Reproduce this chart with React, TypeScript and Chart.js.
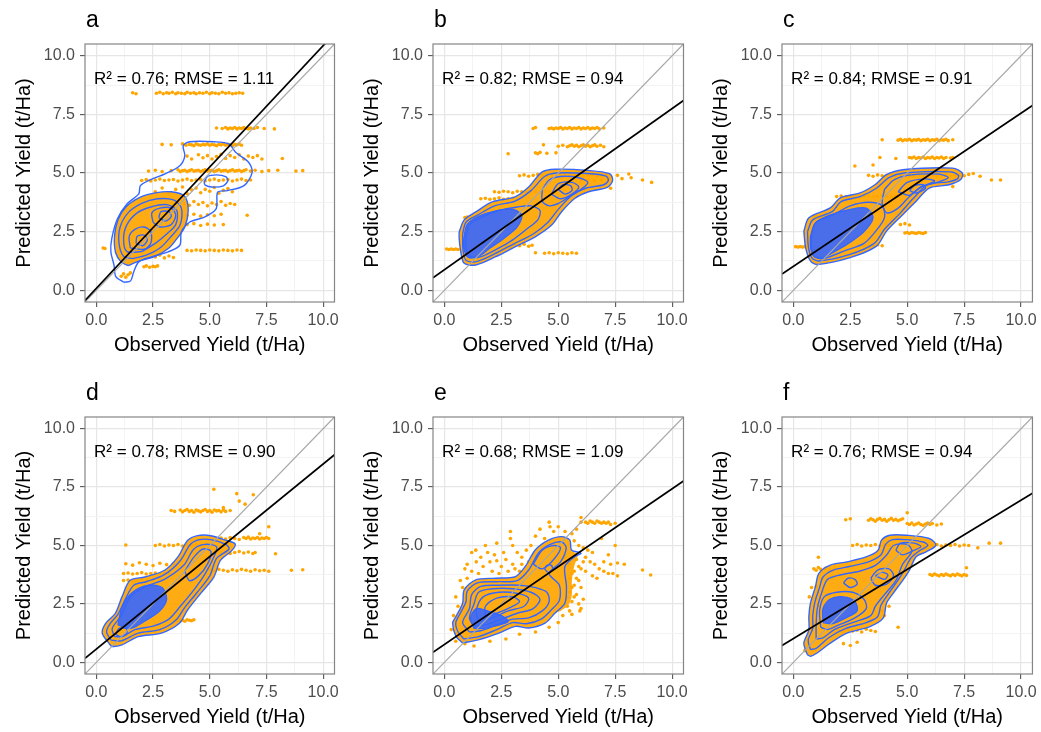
import React, { useEffect, useRef } from "react";
import { Chart, registerables } from "chart.js";
Chart.register(...registerables);

// ---------------- data ----------------
const axisTicks = [0, 1.25, 2.5, 3.75, 5, 6.25, 7.5, 8.75, 10];
const axisMin = -0.5;
const axisMax = 10.5;
const panelLetters = ["a", "b", "c", "d", "e", "f"];
const r2Values = ["0.76", "0.82", "0.84", "0.78", "0.68", "0.76"];
const rmseValues = ["1.11", "0.94", "0.91", "0.90", "1.09", "0.94"];
const fitIntercepts = [0.08, 0.88, 1.02, 0.57, 0.76, 1.02];
const fitSlopes = [1.035, 0.687, 0.653, 0.792, 0.667, 0.592];
const labelX = -0.1;
const labelY = 9;
const xTitle = "Observed Yield (t/Ha)";
const yTitle = "Predicted Yield (t/Ha)";

const aPoints = [
  1.6,8.42, 1.75,8.38, 2.65,8.4, 2.8,8.44, 2.95,8.38, 3.1,8.42, 3.2,8.4, 3.35,8.44, 3.5,8.38, 3.6,8.42, 3.75,8.4, 3.9,8.38, 4.0,8.44, 4.15,8.4, 4.3,8.42, 4.4,8.38, 4.55,8.42, 4.7,8.4, 4.85,8.44, 5.0,8.38, 5.1,8.42, 5.25,8.4, 5.4,8.38, 5.55,8.44, 5.7,8.4, 5.85,8.42, 6.0,8.38, 6.15,8.4, 6.3,8.42, 6.45,8.4,
  5.3,6.92, 5.55,6.9, 5.7,6.94, 5.8,6.88, 5.9,6.92, 6.0,6.9, 6.1,6.94, 6.2,6.88, 6.3,6.92, 6.4,6.9, 6.5,6.94, 6.6,6.9, 6.7,6.88, 6.8,6.92, 6.95,6.9, 7.1,6.94, 7.4,6.9, 7.85,6.88, 8.2,5.62,
  2.9,6.22, 3.3,6.2, 3.8,6.24, 3.95,6.18, 4.1,6.22, 4.2,6.2, 4.3,6.16, 4.4,6.24, 4.5,6.2, 4.6,6.18, 4.7,6.22, 4.8,6.2, 4.9,6.24, 5.0,6.18, 5.1,6.22, 5.2,6.2, 5.3,6.16, 5.4,6.22, 5.5,6.2, 5.6,6.24, 5.7,6.18, 5.8,6.22, 5.9,6.2, 6.0,6.16, 6.1,6.22, 6.2,6.2, 6.3,6.24, 6.4,6.18,
  4.0,5.72, 4.2,5.6, 4.5,5.78, 4.7,5.65, 4.9,5.74, 5.1,5.6, 5.3,5.7, 5.5,5.8, 5.7,5.62, 5.9,5.74, 6.1,5.66, 6.3,5.78, 6.5,5.6, 6.7,5.72, 6.9,5.66, 7.1,5.74, 7.3,5.6,
  2.3,5.08, 2.6,5.12, 2.9,5.06, 3.3,5.1, 3.6,5.14, 3.7,5.06, 3.8,5.1, 3.9,5.12, 4.0,5.06, 4.1,5.1, 4.2,5.14, 4.3,5.08, 4.4,5.1, 4.5,5.12, 4.6,5.06, 4.7,5.1, 4.8,5.14, 4.9,5.08, 5.0,5.1, 5.1,5.12, 5.2,5.06, 5.3,5.1, 5.4,5.14, 5.5,5.08, 5.6,5.1, 5.7,5.12, 5.8,5.06, 5.9,5.1, 6.0,5.14, 6.1,5.08, 6.2,5.1, 6.3,5.12, 6.4,5.06, 6.5,5.1, 6.6,5.14, 6.8,5.08, 7.0,5.12, 7.3,5.06, 7.6,5.1, 8.0,5.12, 8.8,5.08, 9.1,5.1,
  2.0,4.68, 2.2,4.72, 2.4,4.66, 2.6,4.7, 2.8,4.74, 3.0,4.68, 3.2,4.7, 3.4,4.72, 3.6,4.66, 3.8,4.7, 4.0,4.74, 4.2,4.68, 4.4,4.7, 4.6,4.72, 4.8,4.66, 5.0,4.7, 5.2,4.74, 5.4,4.68, 5.6,4.7, 5.8,4.72, 6.0,4.66, 6.2,4.7, 6.4,4.74, 6.6,4.68, 6.8,4.7,
  2.6,4.2, 2.9,4.36, 3.2,4.14, 3.5,4.3, 3.8,4.4, 4.0,4.12, 4.2,4.28, 4.4,4.36, 4.6,4.16, 4.8,4.3, 5.0,4.22, 5.2,4.38, 5.4,4.14, 5.6,4.26, 5.8,4.34, 6.0,4.2,
  3.9,3.7, 4.1,3.62, 4.3,3.78, 4.5,3.66, 4.7,3.74, 4.9,3.6, 5.1,3.72, 5.3,3.66, 5.5,3.78, 5.7,3.62, 5.9,3.7, 6.1,3.66,
  4.0,3.2, 4.3,3.24, 4.6,3.16, 4.9,3.22, 5.2,3.18, 5.5,3.24, 6.65,3.2,
  4.0,2.8, 4.3,2.84, 4.6,2.76, 4.9,2.82, 5.2,2.78, 5.6,2.8,
  0.3,1.8, 0.38,1.78, 4.0,1.7, 4.2,1.68, 4.4,1.72, 4.6,1.7, 4.8,1.68, 5.0,1.72, 5.2,1.7, 5.4,1.68, 5.6,1.72, 5.8,1.7, 6.0,1.68, 6.2,1.72, 6.4,1.7,
  2.1,1.0, 2.2,1.04, 2.35,0.98, 2.5,1.02, 2.6,1.0, 2.7,1.04,
  2.6,1.42, 2.8,1.5, 3.0,1.38, 3.2,1.46, 3.4,1.4,
  1.1,0.6, 1.2,0.7, 1.3,0.56, 1.4,0.66, 1.5,0.74,
];

const bPoints = [
  3.9,6.9, 4.0,6.94, 4.6,6.9, 4.7,6.92, 4.8,6.88, 4.9,6.92, 5.0,6.9, 5.1,6.94, 5.2,6.88, 5.3,6.92, 5.4,6.9, 5.5,6.94, 5.6,6.88, 5.7,6.92, 5.8,6.9, 5.9,6.94, 6.0,6.88, 6.1,6.92, 6.2,6.9, 6.3,6.94, 6.4,6.88, 6.5,6.92, 6.6,6.9, 6.7,6.94, 6.8,6.88, 7.0,6.92,
  4.35,6.2, 5.0,6.14, 5.2,6.18, 5.4,6.12, 5.5,6.16, 5.6,6.2, 5.7,6.14, 5.8,6.18, 5.9,6.12, 6.0,6.16, 6.1,6.2, 6.2,6.14, 6.3,6.18, 6.4,6.12, 6.5,6.16, 6.6,6.2, 6.7,6.14, 6.85,6.18, 7.0,6.12,
  2.8,5.82, 4.0,5.86, 4.1,5.82, 4.2,5.88, 4.5,5.84, 4.9,5.86,
  3.3,4.88, 3.5,4.92, 3.7,4.86, 3.9,4.9, 4.1,4.94, 4.3,4.88, 4.5,4.9, 4.7,4.92, 4.9,4.86, 5.1,4.9, 5.3,4.94, 5.5,4.88, 5.7,4.9, 5.9,4.92, 6.1,4.86, 6.3,4.9, 6.5,4.94, 6.7,4.88, 6.9,4.9, 7.1,4.92, 7.3,4.86,
  6.0,4.7, 6.3,4.72, 6.6,4.68, 6.9,4.7, 7.2,4.74, 7.6,4.9, 7.8,4.76, 8.1,4.96, 8.2,4.8, 8.7,4.7, 9.1,4.6, 7.3,4.35,
  2.2,4.2, 2.4,4.18, 2.6,4.22, 2.8,4.2, 3.0,4.16, 3.2,4.22, 3.4,4.2, 3.6,4.18, 3.8,4.22, 4.0,4.2, 4.2,4.16, 4.4,4.22, 4.6,4.2, 4.8,4.18,
  1.6,3.9, 1.8,3.92, 2.0,3.88, 2.2,3.9, 2.4,3.94, 2.6,3.88, 2.8,3.9, 3.0,3.92, 3.2,3.88,
  0.9,3.1, 1.0,3.12, 1.1,3.08, 1.2,3.1, 1.3,3.14, 1.5,3.08, 1.7,3.12,
  0.1,1.76, 0.2,1.74, 0.3,1.76, 0.4,1.74, 0.5,1.76, 0.6,1.74,
  4.0,1.6, 4.4,1.58, 4.6,1.6, 4.8,1.56, 5.0,1.6, 5.2,1.58, 5.4,1.56, 5.6,1.6, 5.8,1.58,
  2.7,1.92, 2.9,1.88, 3.1,1.94, 3.3,1.9, 3.5,1.96, 3.7,1.88, 3.85,1.92,
];

const cPoints = [
  3.9,6.42, 4.6,6.4, 4.7,6.44, 4.8,6.38, 4.9,6.42, 5.0,6.4, 5.1,6.44, 5.2,6.38, 5.3,6.42, 5.4,6.4, 5.5,6.44, 5.6,6.38, 5.7,6.42, 5.8,6.4, 5.9,6.44, 6.0,6.38, 6.1,6.42, 6.2,6.4, 6.3,6.44, 6.4,6.38, 6.5,6.42, 6.6,6.4, 6.7,6.44, 6.8,6.38, 7.0,6.42,
  3.8,5.66, 4.5,5.62, 5.1,5.66, 5.2,5.64, 5.3,5.68, 5.4,5.62, 5.5,5.66, 5.6,5.64, 5.7,5.68, 5.8,5.62, 5.9,5.66, 6.0,5.64, 6.1,5.68, 6.2,5.62, 6.3,5.66, 6.4,5.64, 6.5,5.68, 6.6,5.62, 6.7,5.66, 6.9,5.64, 7.0,5.66,
  2.7,5.3, 3.5,5.34,
  3.3,4.9, 3.5,4.86, 3.7,4.92, 3.9,4.88, 4.1,4.9, 4.3,4.94, 4.5,4.86, 4.7,4.9, 4.9,4.92, 5.1,4.88, 5.3,4.9, 5.5,4.94, 5.7,4.86, 5.9,4.9, 6.1,4.92, 6.3,4.88, 6.5,4.9, 6.7,4.94, 6.9,4.86, 7.1,4.9, 7.3,4.92, 7.5,4.88, 7.7,4.94, 7.9,4.98, 8.2,4.86, 8.7,4.7, 9.1,4.7, 7.0,4.42,
  1.9,4.0, 2.1,4.02, 2.3,3.98, 2.5,4.0, 2.7,4.04, 2.9,3.98, 3.1,4.0, 3.3,4.02, 3.5,3.98, 3.7,4.0, 3.9,4.04, 4.1,3.98, 4.3,4.0, 4.5,4.02,
  0.9,3.14, 1.0,3.16, 1.1,3.12, 1.2,3.16, 1.3,3.14, 1.4,3.18, 1.5,3.12, 1.6,3.16, 1.8,3.14, 2.0,3.16,
  4.7,2.8, 4.9,2.84, 5.1,2.78,
  4.9,2.44, 5.0,2.46, 5.1,2.42, 5.2,2.46, 5.3,2.44, 5.4,2.42, 5.5,2.46, 5.6,2.44, 5.7,2.42, 5.8,2.46,
  0.1,1.86, 0.2,1.84, 0.3,1.86, 0.4,1.84, 0.5,1.86,
  2.9,1.9, 3.1,1.92, 3.3,1.88, 3.5,1.9, 3.7,1.94, 3.9,1.9,
];

const dPoints = [
  3.3,6.5, 3.45,6.46, 3.7,6.52, 3.8,6.44, 3.9,6.5, 4.0,6.54, 4.1,6.46, 4.2,6.5, 4.3,6.42, 4.4,6.52, 4.5,6.48, 4.6,6.44, 4.7,6.5, 4.8,6.54, 4.9,6.46, 5.0,6.5, 5.1,6.42, 5.2,6.52, 5.3,6.48, 5.4,6.5, 5.5,6.44, 5.6,6.52, 5.7,6.46, 5.9,6.5,
  5.18,7.41, 6.19,7.22, 6.92,7.17, 6.56,6.77, 5.6,6.62, 6.3,6.9,
  5.5,5.32, 5.7,5.28, 5.9,5.34, 6.1,5.3, 6.3,5.26, 6.5,5.34, 6.6,5.3, 6.7,5.36, 6.8,5.28, 6.9,5.32, 7.0,5.3, 7.1,5.34, 7.2,5.28, 7.3,5.32, 7.4,5.3, 7.5,5.34, 7.6,5.3, 7.6,5.8, 7.2,5.5,
  1.3,5.02, 2.6,5.0, 2.8,5.04, 3.0,4.98, 3.2,5.02, 3.4,5.0, 3.6,5.04, 3.8,4.98, 4.0,5.02, 4.2,5.0, 4.4,5.04, 4.6,4.98, 4.8,5.02,
  5.5,4.7, 5.7,4.72, 5.9,4.66, 6.1,4.7, 6.3,4.74, 6.5,4.68, 6.7,4.72, 6.9,4.66, 7.0,4.7, 7.9,4.65,
  1.3,4.22, 1.6,4.16, 1.9,4.26, 2.2,4.2, 2.5,4.14, 2.8,4.24, 3.1,4.18, 3.4,4.22,
  5.0,3.96, 5.2,3.92, 5.4,3.98, 5.6,3.94, 5.8,3.9, 6.0,3.96, 6.2,3.92, 6.4,3.98, 6.6,3.94, 6.8,3.9, 7.0,3.96, 7.2,3.92, 7.4,3.94, 7.6,3.9, 8.6,3.94, 9.1,3.96,
  1.2,3.8, 1.4,3.82, 1.6,3.78, 1.8,3.8, 2.0,3.84, 2.2,3.78, 2.4,3.8, 2.6,3.82, 2.8,3.78, 3.0,3.8, 3.2,3.82,
  1.2,3.5, 1.4,3.52, 1.6,3.48, 1.8,3.5, 2.0,3.54, 2.2,3.48, 2.5,3.5, 2.8,3.52,
  3.5,1.8, 3.6,1.78, 3.7,1.84, 3.8,1.8, 3.9,1.76, 4.0,1.82, 4.1,1.8, 4.2,1.78, 4.3,1.82,
];

const ePoints = [
  2.9,5.6, 1.38,4.8, 1.2,4.7, 1.6,4.5, 2.0,4.3, 2.2,4.6, 2.5,4.1, 2.7,4.4, 3.0,4.2, 3.2,4.7, 3.4,4.5, 3.6,4.8, 3.0,5.0, 3.8,5.0, 4.0,5.4, 4.2,5.7, 4.4,5.3, 4.64,5.8, 4.8,5.6, 4.6,6.0, 5.0,5.8, 5.3,5.6, 5.6,5.5, 5.8,5.7,
  6.0,6.2, 6.0,6.0, 6.2,6.0, 6.3,5.95, 6.4,6.05, 6.5,6.0, 6.6,5.95, 6.7,6.05, 6.8,6.0, 6.9,5.95, 7.0,6.0, 7.1,5.95, 7.2,6.0, 7.3,5.9, 7.5,5.95,
  5.7,5.2, 5.9,5.0, 6.1,4.9, 6.3,4.8, 6.5,4.7, 6.2,4.5, 6.4,4.3, 6.6,4.2, 6.8,4.0, 7.0,3.9, 7.2,3.8, 7.4,3.8, 7.6,3.7, 7.0,4.3, 7.3,4.2, 7.6,4.25, 7.9,4.2, 7.2,4.6, 6.5,3.7, 6.7,3.6, 6.0,4.0, 5.8,3.6, 5.6,3.2, 5.7,2.8, 5.9,2.5, 6.0,2.3, 5.5,2.2, 5.2,2.0,
  8.7,3.95, 9.06,3.74, 7.5,5.0, 6.9,5.3,
  0.4,2.0, 0.6,2.4, 0.5,2.8, 0.8,3.2, 1.0,3.6, 1.2,3.9, 0.9,4.0, 0.3,1.4, 0.5,0.9, 0.9,0.8, 1.3,0.7, 2.0,0.9, 2.7,1.0, 3.3,1.2, 4.0,1.3, 4.6,1.5, 5.0,1.7, 2.9,5.3, 2.3,5.1, 1.8,5.0,
  5.4,2.4, 5.6,2.6, 5.8,2.9, 5.5,3.0, 5.7,3.3, 5.9,3.5, 5.5,3.6, 5.7,3.9, 5.9,4.1, 6.1,4.3, 5.5,4.2, 5.8,4.4, 6.0,3.2, 6.1,2.7, 5.4,2.8, 5.6,3.8, 5.3,4.5, 6.2,3.9, 5.95,2.2, 5.6,2.05,
  1.0,4.2, 1.4,4.3, 1.7,4.1, 2.1,3.9, 2.4,3.8, 2.8,3.9, 3.1,4.0, 3.4,4.2, 2.6,4.7, 1.9,4.7, 2.3,4.35, 3.3,3.9, 3.7,4.3, 1.5,3.8, 0.7,3.5,
];

const fPoints = [
  2.3,6.1, 2.5,6.14, 3.3,6.08, 3.4,6.14, 3.5,6.1, 3.6,6.04, 3.7,6.12, 3.8,6.16, 3.9,6.08, 4.0,6.12, 4.1,6.04, 4.2,6.1, 4.3,6.16, 4.4,6.08, 4.5,6.12, 4.6,6.06, 4.7,6.1, 4.8,6.14, 5.0,6.4,
  5.0,5.94, 5.1,5.9, 5.2,5.96, 5.3,5.88, 5.4,5.92, 5.5,5.96, 5.6,5.9, 5.7,5.86, 5.8,5.92, 5.9,5.96, 6.0,5.9, 6.1,5.94, 6.3,5.88, 6.5,5.92,
  2.6,5.0, 2.8,5.04, 3.0,4.98, 3.2,5.02, 3.4,5.0, 3.6,5.04, 3.8,4.98, 4.0,5.02, 4.2,5.0, 5.5,5.04, 5.7,4.98, 5.9,5.02, 6.1,5.0, 6.3,5.04, 6.5,4.98, 6.7,5.02, 6.9,5.0, 7.1,5.04, 7.3,4.98, 7.5,5.02, 7.7,5.0, 8.1,4.9, 8.6,5.1, 9.1,5.1,
  6.0,3.76, 6.1,3.72, 6.2,3.78, 6.3,3.74, 6.4,3.7, 6.5,3.76, 6.6,3.72, 6.7,3.78, 6.8,3.74, 6.9,3.7, 7.0,3.76, 7.1,3.72, 7.2,3.78, 7.3,3.74, 7.4,3.7, 7.5,3.76, 7.6,3.72, 7.6,4.05,
  0.9,4.0, 1.0,3.94, 1.1,4.06, 1.2,3.98, 1.4,4.02, 1.6,3.96, 1.8,4.04, 1.1,4.5,
  0.8,3.2, 1.0,3.24, 0.7,2.8,
  2.0,1.36, 2.2,1.32, 2.4,1.4, 2.6,1.34, 2.8,1.38, 3.0,1.3, 3.2,1.42, 3.4,1.36, 3.6,1.32,
  2.2,0.8, 2.5,0.72, 2.8,0.86,
  4.6,1.5, 4.0,2.0, 3.9,2.2, 4.2,2.4, 0.5,0.5, 0.6,0.7,
];

// density contour rings (first = outermost)
const aRings = [
  [1.22,0.34, 0.86,0.58, 0.78,1.07, 0.64,1.64, 0.68,2.2, 0.93,3.05, 1.36,3.69, 1.87,4.11, 1.94,4.46, 2.3,4.68, 3.03,4.96, 3.68,5.31, 3.9,5.73, 3.83,6.16, 4.12,6.33, 5.2,6.33, 5.86,6.23, 6.14,5.88, 6.72,5.45, 6.87,5.03, 6.51,4.46, 5.78,4.25, 5.35,4.18, 5.28,3.47, 4.77,3.12, 4.12,2.91, 3.75,2.49, 3.68,1.92, 3.17,1.64, 2.45,1.43, 1.87,1.21, 1.65,0.79, 1.51,0.4],
  [1.4,1.05, 1.1,1.2, 0.85,1.6, 0.8,2.3, 0.95,3.0, 1.3,3.55, 1.9,3.95, 2.6,4.15, 3.3,4.2, 3.9,4.0, 4.05,3.4, 3.9,2.7, 3.55,2.2, 3.2,1.8, 2.6,1.45, 1.9,1.25],
  [1.6,1.35, 1.2,1.45, 1.0,2.0, 1.05,2.7, 1.4,3.3, 2.0,3.7, 2.7,3.9, 3.4,3.85, 3.75,3.5, 3.7,2.8, 3.3,2.3, 2.8,1.8, 2.2,1.5],
  [2.0,1.65, 1.35,1.65, 1.2,2.2, 1.35,2.8, 1.8,3.3, 2.4,3.55, 3.1,3.65, 3.55,3.4, 3.5,2.8, 3.1,2.4, 2.6,2.0],
  [1.5,1.8, 1.45,2.3, 1.7,2.6, 2.1,2.7, 2.4,2.5, 2.4,2.0, 2.1,1.75],
  [2.5,2.9, 2.45,3.3, 2.8,3.5, 3.3,3.5, 3.5,3.2, 3.3,2.8, 2.8,2.7],
  [1.75,2.0, 1.8,2.3, 2.1,2.35, 2.25,2.15, 2.05,1.9],
  [2.75,3.1, 2.85,3.35, 3.2,3.35, 3.3,3.15, 3.05,2.95],
  [4.75,4.6, 4.9,4.85, 5.3,4.92, 5.7,4.85, 5.8,4.68, 5.6,4.45, 5.1,4.4, 4.8,4.48],
];

const bRings = [
  [0.65,2.49, 0.87,3.0, 1.38,3.34, 2.1,3.77, 3.1,3.98, 3.7,4.4, 4.28,5.04, 4.86,5.16, 6.3,5.11, 7.25,4.97, 7.39,4.69, 7.17,4.4, 6.3,4.19, 5.72,3.91, 5.14,3.34, 4.71,2.78, 3.99,2.28, 3.12,1.86, 2.25,1.43, 1.38,1.08, 0.87,1.15, 0.72,1.64, 0.65,2.21],
  [0.8,2.4, 0.95,2.9, 1.45,3.2, 2.2,3.6, 3.1,3.8, 3.8,4.25, 4.4,4.85, 4.9,5.0, 6.3,4.98, 7.1,4.87, 7.2,4.68, 7.0,4.5, 6.2,4.35, 5.6,4.05, 5.0,3.45, 4.55,2.9, 3.9,2.4, 3.05,1.98, 2.2,1.55, 1.4,1.22, 0.95,1.28, 0.82,1.7],
  [4.3,4.3, 4.6,4.7, 5.1,4.85, 5.9,4.8, 6.3,4.6, 6.0,4.3, 5.5,4.0, 5.0,3.7, 4.6,3.6, 4.3,3.8],
  [0.95,2.3, 1.1,2.8, 1.6,3.1, 2.4,3.4, 3.2,3.55, 3.8,3.6, 4.2,3.4, 4.1,3.0, 3.6,2.6, 3.0,2.15, 2.3,1.75, 1.5,1.4, 1.05,1.5, 0.93,1.9],
  [4.7,4.1, 5.0,4.55, 5.6,4.6, 5.9,4.4, 5.6,4.1, 5.1,3.9],
  [5.0,4.3, 5.2,4.5, 5.55,4.45, 5.6,4.25, 5.3,4.1],
];

const cRings = [
  [0.46,2.52, 0.68,3.09, 1.62,3.51, 2.06,3.94, 2.93,4.15, 3.58,4.5, 4.09,4.93, 4.81,5.14, 6.99,5.21, 7.42,5.0, 7.35,4.72, 6.84,4.5, 5.97,4.36, 5.39,3.8, 4.81,3.23, 4.09,2.52, 3.65,1.88, 2.49,1.39, 1.04,1.1, 0.75,1.25, 0.54,1.81],
  [0.62,2.5, 0.85,3.0, 1.7,3.35, 2.1,3.78, 2.95,4.0, 3.65,4.35, 4.2,4.8, 4.85,5.0, 6.9,5.05, 7.25,4.9, 7.2,4.75, 6.8,4.62, 5.9,4.5, 5.25,3.9, 4.7,3.3, 4.0,2.6, 3.55,2.0, 2.45,1.52, 1.1,1.25, 0.8,1.4, 0.66,1.85],
  [4.0,4.3, 4.4,4.7, 5.0,4.9, 6.4,4.95, 6.8,4.8, 6.3,4.6, 5.6,4.4, 5.1,4.0, 4.6,3.5, 4.1,3.3, 3.9,3.7],
  [4.6,4.2, 5.0,4.6, 5.8,4.75, 6.2,4.65, 5.6,4.4, 5.1,4.05],
  [5.1,4.25, 5.3,4.45, 5.7,4.5, 5.8,4.35, 5.4,4.15],
  [0.8,2.4, 1.0,2.9, 1.7,3.2, 2.5,3.6, 3.3,3.75, 3.9,3.6, 4.0,3.1, 3.6,2.5, 3.1,2.0, 2.3,1.7, 1.3,1.35, 0.9,1.45, 0.78,1.9],
];

const dRings = [
  [0.55,0.82, 0.26,1.25, 0.41,1.67, 0.84,2.1, 1.13,2.8, 1.49,3.51, 2.14,3.65, 3.01,3.94, 3.59,4.5, 4.02,5.21, 4.46,5.42, 5.04,5.42, 5.76,5.21, 6.12,5.07, 5.98,4.79, 5.47,4.36, 5.18,3.65, 4.6,2.95, 4.02,2.24, 3.66,1.67, 2.87,1.25, 1.85,1.1, 1.13,0.75, 0.69,0.68],
  [0.65,0.95, 0.45,1.3, 0.6,1.65, 0.95,2.05, 1.3,2.75, 1.65,3.3, 2.2,3.45, 3.0,3.75, 3.7,4.35, 4.15,5.05, 4.55,5.25, 5.05,5.25, 5.7,5.05, 5.85,4.85, 5.3,4.45, 5.0,3.7, 4.45,3.0, 3.9,2.35, 3.5,1.8, 2.8,1.4, 1.85,1.25, 1.1,0.92],
  [0.8,1.1, 0.7,1.45, 1.1,2.0, 1.5,2.8, 2.2,3.25, 3.0,3.55, 3.85,4.15, 4.3,4.85, 4.8,5.05, 5.3,4.95, 5.2,4.55, 4.8,3.8, 4.3,3.1, 3.75,2.45, 3.2,1.85, 2.5,1.55, 1.7,1.4, 1.15,1.1],
  [3.9,3.9, 4.3,4.5, 4.7,4.85, 5.05,4.75, 4.9,4.2, 4.5,3.7, 4.1,3.5],
  [0.85,1.2, 1.0,1.45, 1.3,1.45, 1.35,1.25, 1.05,1.1],
];

const eRings = [
  [0.8,0.83, 0.51,1.11, 0.36,1.68, 0.51,1.96, 0.8,2.53, 0.87,3.1, 1.38,3.53, 2.25,3.6, 3.12,3.67, 3.55,4.1, 3.99,4.81, 4.57,5.23, 5.14,5.38, 5.51,5.23, 5.58,4.81, 6.0,4.67, 5.72,4.52, 5.29,4.1, 5.36,3.24, 5.29,2.53, 4.86,2.11, 4.42,1.68, 3.7,1.47, 3.12,1.54, 2.39,1.25, 1.52,0.97],
  [0.85,1.0, 0.6,1.3, 0.5,1.7, 0.7,2.1, 0.95,2.6, 1.0,3.05, 1.45,3.4, 2.3,3.45, 3.2,3.5, 3.7,3.95, 4.15,4.7, 4.65,5.05, 5.15,5.15, 5.35,4.9, 5.1,4.3, 4.6,3.8, 5.05,3.3, 5.05,2.65, 4.7,2.25, 4.25,1.85, 3.6,1.65, 3.0,1.7, 2.3,1.4, 1.5,1.1],
  [1.1,1.3, 0.8,1.7, 1.1,2.3, 1.2,2.9, 1.6,3.25, 2.4,3.3, 3.3,3.3, 4.0,3.2, 4.5,3.0, 4.6,2.6, 4.3,2.2, 3.7,1.9, 3.0,1.85, 2.3,1.6, 1.6,1.35],
  [1.3,1.55, 1.1,1.9, 1.3,2.5, 1.5,3.0, 2.1,3.15, 3.0,3.15, 3.8,3.0, 4.2,2.7, 3.9,2.3, 3.2,2.1, 2.5,1.85, 1.8,1.6],
  [1.5,1.75, 1.4,2.2, 1.7,2.8, 2.4,3.0, 3.2,2.95, 3.7,2.75, 3.5,2.4, 2.8,2.2, 2.1,1.9],
  [1.8,1.95, 1.8,2.4, 2.3,2.75, 3.0,2.8, 3.3,2.6, 2.9,2.35, 2.3,2.1],
  [4.4,4.0, 4.5,4.15, 4.7,4.15, 4.75,3.95, 4.55,3.85],
  [3.9,4.2, 4.3,4.8, 4.8,5.0, 5.1,4.9, 4.8,4.4, 4.3,4.0],
];

const fRings = [
  [0.61,0.33, 0.46,0.82, 0.68,1.39, 0.68,1.96, 0.75,2.53, 0.97,3.24, 1.12,3.81, 1.62,4.16, 2.35,4.3, 3.22,4.52, 3.72,4.8, 3.87,5.23, 4.23,5.44, 4.96,5.44, 5.97,5.3, 6.26,5.01, 5.83,4.73, 5.39,4.52, 5.1,3.95, 4.81,3.52, 4.38,2.95, 4.09,2.53, 3.94,1.89, 3.36,1.53, 2.35,1.25, 1.62,0.82, 1.04,0.4, 0.75,0.26],
  [0.75,0.55, 0.65,0.95, 0.85,1.45, 0.85,2.0, 0.95,2.6, 1.15,3.2, 1.3,3.65, 1.75,3.95, 2.45,4.1, 3.3,4.3, 3.85,4.6, 4.05,5.05, 4.35,5.25, 4.95,5.25, 5.7,5.15, 5.9,5.0, 5.5,4.75, 5.15,4.45, 4.85,3.9, 4.55,3.45, 4.15,2.9, 3.85,2.45, 3.7,1.95, 3.2,1.7, 2.3,1.45, 1.55,1.05, 1.0,0.6],
  [1.0,1.0, 1.0,1.6, 1.05,2.3, 1.25,3.0, 1.5,3.55, 2.1,3.75, 2.9,3.9, 3.6,4.15, 4.1,4.6, 4.4,5.0, 5.0,5.05, 5.2,4.75, 4.8,4.2, 4.5,3.5, 4.0,2.9, 3.6,2.4, 3.4,2.0, 2.6,1.7, 1.8,1.4, 1.3,1.05],
  [2.2,3.4, 2.4,3.6, 2.7,3.55, 2.8,3.35, 2.5,3.2],
  [3.4,3.6, 3.7,3.95, 4.2,4.0, 4.4,3.7, 4.1,3.35, 3.6,3.3],
  [3.6,3.7, 3.9,3.85, 4.15,3.75, 4.0,3.55],
  [1.2,1.5, 1.15,2.2, 1.35,2.8, 1.9,3.0, 2.6,3.0, 3.1,2.7, 3.2,2.3, 2.7,1.9, 2.0,1.6, 1.5,1.4],
  [4.5,4.8, 4.7,5.1, 5.3,5.1, 5.6,4.95, 5.2,4.75, 4.8,4.6],
];

// highest-density cores (tightly packed contour lines)
const bCore = [0.85,2.2, 1.0,2.8, 1.5,3.15, 2.3,3.4, 3.0,3.45, 3.4,3.2, 3.2,2.7, 2.6,2.2, 2.0,1.8, 1.5,1.45, 1.05,1.4, 0.85,1.8];
const cCore = [0.75,2.3, 0.95,2.85, 1.6,3.2, 2.5,3.45, 3.2,3.5, 3.5,3.1, 3.1,2.5, 2.5,2.05, 1.9,1.7, 1.3,1.4, 0.9,1.45, 0.75,1.85];
const dCore = [0.95,1.6, 1.15,2.4, 1.6,3.0, 2.3,3.3, 2.9,3.2, 3.1,2.7, 2.8,2.2, 2.2,1.8, 1.5,1.45];
const eCore = [1.3,1.45, 1.15,1.9, 1.4,2.3, 1.9,2.2, 2.5,2.0, 2.8,1.75, 2.2,1.55, 1.7,1.45];
const fCore = [1.3,1.7, 1.3,2.3, 1.6,2.7, 2.2,2.8, 2.7,2.6, 2.8,2.2, 2.3,1.9, 1.7,1.65];
const eDense = [0.8,0.83, 0.51,1.11, 0.36,1.68, 0.51,1.96, 0.8,2.53, 0.87,3.1, 1.38,3.53, 2.25,3.6, 3.12,3.67, 3.55,4.1, 3.99,4.81, 4.57,5.23, 5.14,5.38, 5.51,5.23, 5.58,4.81, 5.85,4.6, 5.7,4.1, 5.6,3.5, 5.6,2.9, 5.45,2.45, 5.1,2.2, 4.86,2.11, 4.42,1.68, 3.7,1.47, 3.12,1.54, 2.39,1.25, 1.52,0.97];

const panelPoints = [aPoints, bPoints, cPoints, dPoints, ePoints, fPoints];
const panelRings = [aRings, bRings, cRings, dRings, eRings, fRings];
const panelDense = [aRings[1], bRings[0], cRings[0], dRings[0], eDense, fRings[0]];
const panelCores: number[][] = [[], bCore, cCore, dCore, eCore, fCore];

// ---------------- layout / style ----------------
const FONT = "'Liberation Sans', Arial, Helvetica, sans-serif";
const colLeft = [0, 349, 698];
const rowTop = [0, 366];
const canvasW = 343;
const canvasH = 366;
const yAxisW = [85, 84, 84];
const padRight = [6, 7, 8];
const padTop = [44, 51];
const xAxisH = [64, 58];
const xTitlePad = [9, 3];
const ORANGE = "#FFA500";
const BLUE = "#3366FF";

function toXY(flat: number[]) {
  const out: { x: number; y: number }[] = [];
  for (let i = 0; i + 1 < flat.length; i += 2) out.push({ x: flat[i], y: flat[i + 1] });
  return out;
}
function closed(flat: number[]) {
  const pts = toXY(flat);
  if (pts.length) pts.push({ ...pts[0] });
  return pts;
}
const isMajor = (v: number) => Math.abs(v / 2.5 - Math.round(v / 2.5)) < 1e-6;

const decorPlugin = {
  id: "panelDecor",
  afterDraw(chart: any, _args: any, opts: any) {
    const { ctx, chartArea } = chart;
    const { left, top, right, bottom } = chartArea;
    const xs = chart.scales.x;
    const ys = chart.scales.y;
    ctx.save();
    ctx.strokeStyle = "#858585";
    ctx.lineWidth = 1.2;
    ctx.strokeRect(left, top, right - left, bottom - top);
    ctx.fillStyle = "#000";
    ctx.textAlign = "left";
    ctx.textBaseline = "alphabetic";
    ctx.font = `23px ${FONT}`;
    ctx.fillText(opts.letter, left + 1, top - 17);
    ctx.textBaseline = "middle";
    ctx.font = `17px ${FONT}`;
    ctx.fillText(opts.label, xs.getPixelForValue(labelX), ys.getPixelForValue(labelY));
    ctx.restore();
  },
};

function axisOptions(axis: "x" | "y", col: number, row: number) {
  return {
    type: "linear",
    min: axisMin,
    max: axisMax,
    afterBuildTicks: (s: any) => {
      s.ticks = axisTicks.map((v) => ({ value: v }));
    },
    afterFit: (s: any) => {
      if (axis === "y") s.width = yAxisW[col];
      else s.height = xAxisH[row];
    },
    border: { display: false },
    grid: {
      color: (c: any) => (c.tick && isMajor(c.tick.value) ? "#E6E6E6" : "#F2F2F2"),
      lineWidth: (c: any) => (c.tick && isMajor(c.tick.value) ? 1.2 : 0.9),
      tickColor: (c: any) => (c.tick && isMajor(c.tick.value) ? "#555555" : "rgba(0,0,0,0)"),
      tickWidth: 1.1,
      tickLength: 5,
      drawTicks: true,
    },
    ticks: {
      autoSkip: false,
      maxRotation: 0,
      minRotation: 0,
      padding: axis === "y" ? 5 : 4,
      color: "#4D4D4D",
      font: { family: FONT, size: 16 },
      callback: (v: any) => (isMajor(Number(v)) ? Number(v).toFixed(1) : ""),
    },
    title: {
      display: true,
      text: axis === "x" ? xTitle : yTitle,
      color: "#000",
      font: { family: FONT, size: 20 },
      padding: axis === "x" ? { top: 0, bottom: xTitlePad[row] } : { top: yAxisW[col] - 73, bottom: 0 },
    },
  };
}

function buildConfig(idx: number): any {
  const col = idx % 3;
  const row = Math.floor(idx / 3);
  const datasets: any[] = [];
  datasets.push({
    data: closed(panelDense[idx]),
    showLine: true,
    pointRadius: 0,
    borderWidth: 0,
    borderColor: "rgba(0,0,0,0)",
    backgroundColor: "rgba(255,165,0,0.92)",
    fill: "shape",
    tension: 0.3,
    order: 6,
  });
  datasets.push({
    data: toXY(panelPoints[idx]),
    pointRadius: 1.8,
    pointBackgroundColor: ORANGE,
    pointBorderWidth: 0,
    showLine: false,
    order: 5,
  });
  if (panelCores[idx].length) {
    datasets.push({
      data: closed(panelCores[idx]),
      showLine: true,
      pointRadius: 0,
      borderWidth: 1.3,
      borderColor: BLUE,
      backgroundColor: "rgba(60,105,250,0.93)",
      fill: "shape",
      tension: 0.3,
      order: 4,
    });
  }
  panelRings[idx].forEach((ring) => {
    datasets.push({
      data: closed(ring),
      showLine: true,
      pointRadius: 0,
      borderWidth: 1.4,
      borderColor: BLUE,
      fill: false,
      tension: 0.3,
      order: 3,
    });
  });
  datasets.push({
    data: [
      { x: axisMin, y: axisMin },
      { x: axisMax, y: axisMax },
    ],
    showLine: true,
    pointRadius: 0,
    borderWidth: 1.2,
    borderColor: "#A8A8A8",
    fill: false,
    order: 2,
  });
  datasets.push({
    data: [
      { x: axisMin, y: fitIntercepts[idx] + fitSlopes[idx] * axisMin },
      { x: axisMax, y: fitIntercepts[idx] + fitSlopes[idx] * axisMax },
    ],
    showLine: true,
    pointRadius: 0,
    borderWidth: 1.7,
    borderColor: "#000000",
    fill: false,
    order: 1,
  });

  return {
    type: "scatter",
    data: { datasets },
    plugins: [decorPlugin],
    options: {
      responsive: false,
      animation: false,
      devicePixelRatio: 1,
      events: [],
      layout: { padding: { top: padTop[row], right: padRight[col], left: 0, bottom: 0 } },
      plugins: {
        legend: { display: false },
        tooltip: { enabled: false },
        panelDecor: {
          letter: panelLetters[idx],
          label: `R² = ${r2Values[idx]}; RMSE = ${rmseValues[idx]}`,
        },
      },
      scales: {
        x: axisOptions("x", col, row),
        y: axisOptions("y", col, row),
      },
    },
  };
}

function Panel({ idx }: { idx: number }) {
  const ref = useRef<HTMLCanvasElement>(null);
  useEffect(() => {
    if (!ref.current) return;
    const chart = new Chart(ref.current, buildConfig(idx));
    return () => chart.destroy();
  }, [idx]);
  const col = idx % 3;
  const row = Math.floor(idx / 3);
  return (
    <canvas
      ref={ref}
      width={canvasW}
      height={canvasH}
      style={{ position: "absolute", left: colLeft[col], top: rowTop[row], width: canvasW, height: canvasH }}
    />
  );
}

export default function App() {
  return (
    <div style={{ position: "absolute", left: 0, top: 0, width: 1041, height: 732, background: "#ffffff", overflow: "hidden" }}>
      {panelLetters.map((_, i) => (
        <Panel key={i} idx={i} />
      ))}
    </div>
  );
}
